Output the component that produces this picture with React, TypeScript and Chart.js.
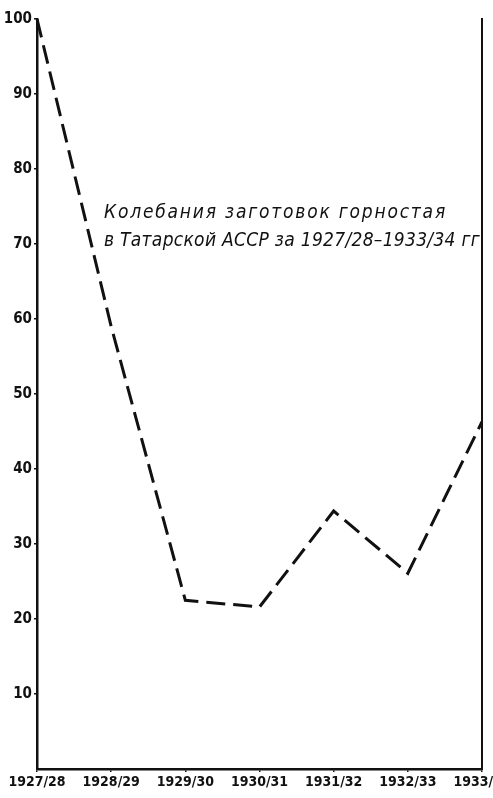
import React, { useEffect, useRef } from "react";
import { Chart, registerables } from "chart.js";

Chart.register(...registerables);

const categories = ["1927/28", "1928/29", "1929/30", "1930/31", "1931/32", "1932/33", "1933/34"];
const values = [100, 59, 22.5, 21.6, 34.4, 26.1, 46.3];
const yTicks = [10, 20, 30, 40, 50, 60, 70, 80, 90, 100];
const titleLines = ["Колебания заготовок горностая", "в Татарской АССР за 1927/28–1933/34 гг"];

const FONT = "'DejaVu Sans Condensed', 'Liberation Sans Narrow', sans-serif";

export default function App() {
  const ref = useRef<HTMLCanvasElement>(null);

  useEffect(() => {
    document.body.style.margin = "0";
    const ctx = ref.current!;
    const chart = new Chart(ctx, {
      type: "line",
      data: {
        labels: categories,
        datasets: [
          {
            data: values,
            borderColor: "#111",
            borderWidth: 3,
            borderDash: [19, 8],
            pointRadius: 0,
            tension: 0,
            fill: false,
          },
        ],
      },
      options: {
        animation: false,
        responsive: false,
        maintainAspectRatio: false,
        layout: { padding: { top: 19, right: 0, left: 0, bottom: 0 } },
        plugins: { legend: { display: false }, tooltip: { enabled: false }, title: { display: false } },
        scales: {
          x: {
            offset: false,
            grid: { display: true, drawOnChartArea: false, drawTicks: true, tickLength: 3, color: "#111", lineWidth: 1.5 },
            border: { display: true, color: "#111", width: 2.5 },
            ticks: {
              color: "#111",
              font: { family: FONT, size: 14, weight: "bold" },
              padding: 2,
              maxRotation: 0,
              autoSkip: false,
            },
            afterFit: (s: any) => {
              s.height = 29;
              s.paddingLeft = 0;
              s.paddingRight = 0;
            },
          },
          y: {
            min: 0,
            max: 100,
            afterBuildTicks: (s: any) => {
              s.ticks = yTicks.map((v) => ({ value: v }));
            },
            grid: { display: true, drawOnChartArea: false, drawTicks: true, tickLength: 3, color: "#111", lineWidth: 1.5 },
            border: { display: true, color: "#111", width: 2.5 },
            ticks: {
              color: "#111",
              font: { family: FONT, size: 15, weight: "bold" },
              padding: 2,
            },
            afterFit: (s: any) => {
              s.width = 37;
              s.paddingTop = 0;
              s.paddingBottom = 0;
            },
          },
          y2: {
            position: "right",
            min: 0,
            max: 100,
            grid: { display: false },
            border: { display: true, color: "#111", width: 2 },
            ticks: { display: false },
            afterFit: (s: any) => {
              s.width = 11;
              s.paddingTop = 0;
              s.paddingBottom = 0;
            },
          },
        },
      },
    });
    return () => chart.destroy();
  }, []);

  return (
    <div style={{ position: "relative", width: 493, height: 798, background: "#fff", overflow: "hidden" }}>
      <canvas ref={ref} width={493} height={798} style={{ display: "block" }} />
      <div
        style={{
          position: "absolute",
          left: 104,
          top: 197,
          fontFamily: FONT,
          fontStyle: "italic",
          fontSize: 19,
          lineHeight: "28px",
          letterSpacing: "1.8px",
          color: "#111",
          whiteSpace: "nowrap",
        }}
      >
        <div>{titleLines[0]}</div>
        <div style={{ letterSpacing: "0.3px" }}>{titleLines[1]}</div>
      </div>
    </div>
  );
}
